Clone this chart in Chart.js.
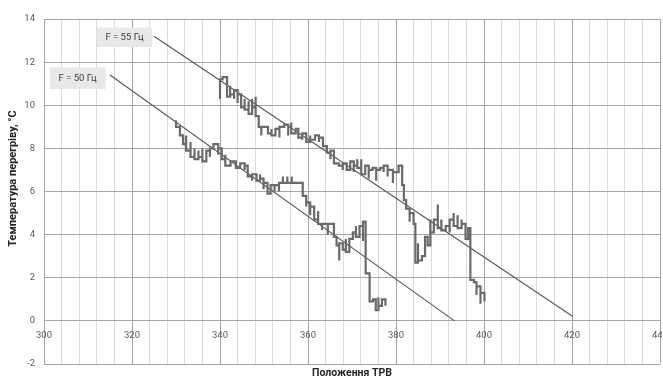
<!DOCTYPE html>
<html>
<head>
<meta charset="utf-8">
<script src="https://cdn.jsdelivr.net/npm/chart.js@4.4.1/dist/chart.umd.min.js"></script>
<style>
  html, body { margin: 0; padding: 0; background: #fff; overflow: hidden; }
  canvas { display: block; }
</style>
</head>
<body>
<canvas id="chart" width="663" height="378"></canvas>
<script>
// Superheat vs. TRV position, measured at two compressor frequencies.
// Each series is a list of [TRV position, superheat °C] readings;
// several readings at one position show up as vertical strokes.
const series50 = [
  [330,9.3],[330,9.0],[330.9,9.0],[330.9,8.6],[331.6,8.6],[331.6,8.2],[332.3,8.2],[332.3,7.9],
  [332.3,8.6],[332.3,7.9],[333.3,7.9],[333.3,7.6],[333.3,8.3],[333.3,7.6],[334.2,7.6],[334.2,8.0],
  [334.2,7.5],[335.1,7.5],[335.1,7.9],[335.1,7.6],[336,7.6],[336,8.0],[336,7.4],[336.9,7.4],
  [336.9,7.9],[337.7,7.9],[337.7,7.6],[337.7,8.0],[338.5,8.0],[338.5,8.2],[339.6,8.2],[339.6,7.7],
  [339.6,8.0],[340.4,8.0],[340.4,7.5],[341.2,7.5],[341.2,7.7],[341.2,7.2],[342.4,7.2],[342.4,7.4],
  [343.6,7.4],[343.6,7.1],[344.6,7.1],[344.6,7.3],[345.6,7.3],[345.6,7.0],[345.6,7.2],[346.3,7.2],
  [346.3,6.7],[347.3,6.7],[347.3,6.5],[347.3,6.8],[348.3,6.8],[348.3,6.5],[349.1,6.5],[349.1,6.8],
  [349.1,6.6],[349.9,6.6],[349.9,6.1],[349.9,6.4],[350.8,6.4],[350.8,5.9],[351.5,5.9],[351.5,6.3],
  [352.4,6.3],[352.4,6.0],[352.4,6.3],[353.4,6.3],[353.4,6.0],[353.4,6.4],[354.3,6.4],[354.3,6.7],
  [354.3,6.4],[355.3,6.4],[355.3,6.7],[355.3,6.4],[356.3,6.4],[356.3,6.7],[356.3,6.4],[358.8,6.4],
  [358.8,5.8],[359.6,5.8],[359.6,5.3],[359.6,5.5],[360.5,5.5],[360.5,4.9],[360.5,5.3],[361.4,5.3],
  [361.4,4.7],[362.3,4.7],[362.3,5.1],[362.3,4.5],[363.2,4.5],[363.2,4.2],[363.2,4.5],[364.5,4.5],
  [364.5,4.0],[364.5,4.5],[365.9,4.5],[365.9,3.9],[366.5,3.9],[366.5,3.5],[367.1,3.5],[367.1,2.8],
  [367.1,3.6],[367.9,3.6],[367.9,3.3],[368.6,3.3],[368.6,3.8],[368.6,3.2],[369.4,3.2],[369.4,3.8],
  [370.2,3.8],[370.2,4.1],[370.9,4.1],[370.9,4.4],[370.9,3.9],[371.7,3.9],[371.7,4.4],[372.5,4.4],
  [372.5,3.7],[372.5,4.6],[373.1,4.6],[373.1,2.2],[374,2.2],[374,0.9],[374.8,0.9],[374.8,1.0],
  [375.4,1.0],[375.4,0.5],[376,0.5],[376,1.1],[376,0.7],[376.8,0.7],[376.8,1.0],[377.6,1.0],
  [377.6,0.7],[377.6,1.0]
];

const series55 = [
  [340,10.3],[340,11.2],[340.6,11.2],[340.6,11.3],[341.6,11.3],[341.6,10.4],[342.3,10.4],[342.3,10.9],
  [342.3,10.5],[343.2,10.5],[343.2,10.3],[343.2,10.7],[344,10.7],[344,10.1],[344,10.5],[344.8,10.5],
  [344.8,9.9],[345.6,9.9],[345.6,10.3],[345.6,9.8],[346.5,9.8],[346.5,10.2],[346.5,9.6],[347.3,9.6],
  [347.3,10.3],[347.3,9.9],[348.1,9.9],[348.1,10.4],[348.1,9.5],[348.8,9.5],[348.8,9.0],[349.4,9.0],
  [349.4,8.6],[349.4,9.0],[350.9,9.0],[350.9,8.7],[351.7,8.7],[351.7,8.9],[351.7,8.6],[352.6,8.6],
  [352.6,8.9],[353.5,8.9],[353.5,8.5],[353.5,9.0],[354.6,9.0],[354.6,9.1],[355.5,9.1],[355.5,8.6],
  [355.5,9.0],[356.2,9.0],[356.2,9.2],[356.2,8.7],[357.2,8.7],[357.2,8.9],[357.8,8.9],[357.8,8.5],
  [358.7,8.5],[358.7,8.4],[358.7,8.7],[359.6,8.7],[359.6,8.3],[360.5,8.3],[360.5,8.6],[360.5,8.4],
  [361.6,8.4],[361.6,8.6],[362.5,8.6],[362.5,8.3],[362.5,8.5],[363.4,8.5],[363.4,8.1],[364.3,8.1],
  [364.3,7.8],[365.1,7.8],[365.1,7.5],[365.1,7.9],[365.9,7.9],[365.9,7.3],[367,7.3],[367,7.2],
  [367.9,7.2],[367.9,7.0],[367.9,7.3],[368.8,7.3],[368.8,7.0],[369.6,7.0],[369.6,7.4],[370.4,7.4],
  [370.4,6.9],[370.4,7.2],[371.2,7.2],[371.2,7.5],[371.2,7.1],[372.1,7.1],[372.1,7.5],[372.1,6.8],
  [373,6.8],[373,7.2],[373.8,7.2],[373.8,6.6],[373.8,7.0],[374.7,7.0],[374.7,7.1],[375.5,7.1],
  [375.5,6.5],[375.5,7.0],[376.4,7.0],[376.4,7.1],[377.2,7.1],[377.2,6.9],[377.2,7.2],[378.1,7.2],
  [378.1,6.7],[378.1,7.0],[379.3,7.0],[379.3,6.4],[379.3,6.9],[380.6,6.9],[380.6,7.2],[381.4,7.2],
  [381.4,6.3],[381.8,6.3],[381.8,5.6],[382.3,5.6],[382.3,5.2],[383.1,5.2],[383.1,4.6],[383.1,5.0],
  [384,5.0],[384,4.5],[384.4,4.5],[384.4,2.7],[385,2.7],[385,3.6],[385,2.8],[385.9,2.8],
  [385.9,3.0],[386.6,3.0],[386.6,3.9],[387.2,3.9],[387.2,3.5],[387.8,3.5],[387.8,4.7],[387.8,4.1],
  [388.6,4.1],[388.6,4.7],[389.5,4.7],[389.5,5.4],[389.5,4.3],[390.3,4.3],[390.3,4.7],[390.3,4.2],
  [391.3,4.2],[391.3,4.4],[392.2,4.4],[392.2,4.1],[392.2,4.7],[393.1,4.7],[393.1,5.0],[393.1,4.4],
  [394,4.4],[394,4.9],[394,4.3],[394.9,4.3],[394.9,4.7],[394.9,4.5],[395.8,4.5],[395.8,3.8],
  [396.4,3.8],[396.4,4.3],[396.9,4.3],[396.9,1.9],[397.7,1.9],[397.7,1.8],[398.3,1.8],[398.3,1.2],
  [398.3,1.6],[399.2,1.6],[399.2,0.8],[399.2,1.3],[400.1,1.3],[400.1,0.9],[400.1,1.3]
];

// Linear trend lines (start and end of each fitted line)
const trend50 = [[315, 11.4], [393.3, 0]];
const trend55 = [[325, 13.2], [420.2, 0.2]];

// Axis ranges and tick steps
const xRange = [300, 440];
const yRange = [-2, 14];
const xLabelStep = 20;
const xGridStep = 4;
const yStep = 2;

const xTitle = 'Положення ТРВ';
const yTitle = 'Температура перегріву, °С';

// Text boxes naming each trend line, placed in data units
const seriesNotes = [
  { text: 'F = 55 Гц', from: [312, 13.6], to: [324.6, 12.7] },
  { text: 'F = 50 Гц', from: [301.3, 11.75], to: [314, 10.75] }
];

const FONT = 'Roboto, "Liberation Sans", sans-serif';
const toPoints = arr => arr.map(([x, y]) => ({ x, y }));

const notesPlugin = {
  id: 'notes',
  afterDatasetsDraw(chart) {
    const { ctx, scales: { x, y } } = chart;
    ctx.save();
    seriesNotes.forEach(n => {
      const l = x.getPixelForValue(n.from[0]);
      const r = x.getPixelForValue(n.to[0]);
      const t = y.getPixelForValue(n.from[1]);
      const b = y.getPixelForValue(n.to[1]);
      ctx.fillStyle = '#e8e8e8';
      ctx.fillRect(l, t, r - l, b - t);
      ctx.fillStyle = '#404040';
      ctx.font = '9.5px ' + FONT;
      ctx.textAlign = 'center';
      ctx.textBaseline = 'middle';
      ctx.fillText(n.text, (l + r) / 2, (t + b) / 2 + 0.5);
    });
    ctx.restore();
  },
  afterDraw(chart) {
    const { ctx, chartArea } = chart;
    ctx.save();
    ctx.translate(13, (chartArea.top + chartArea.bottom) / 2 - 13);
    ctx.rotate(-Math.PI / 2);
    ctx.font = 'bold 11px ' + FONT;
    ctx.fillStyle = '#262626';
    ctx.textAlign = 'center';
    ctx.textBaseline = 'middle';
    ctx.fillText(yTitle, 0, 0);
    ctx.restore();
  }
};

const seriesStyle = { showLine: true, pointRadius: 0, borderWidth: 2.2, borderColor: '#6a6a6a',
                      tension: 0, fill: false, borderJoinStyle: 'miter' };
const trendStyle = { showLine: true, pointRadius: 0, borderWidth: 1.2, borderColor: '#5a5a5a',
                     tension: 0, fill: false };

new Chart(document.getElementById('chart'), {
  type: 'scatter',
  data: {
    datasets: [
      { label: 'F = 50 Гц', data: toPoints(series50), ...seriesStyle },
      { label: 'F = 55 Гц', data: toPoints(series55), ...seriesStyle },
      { label: 'Тренд 50', data: toPoints(trend50), ...trendStyle },
      { label: 'Тренд 55', data: toPoints(trend55), ...trendStyle }
    ]
  },
  options: {
    responsive: false,
    animation: false,
    devicePixelRatio: 1,
    layout: { padding: { left: 0, right: 3, top: 19, bottom: 0 } },
    plugins: { legend: { display: false }, tooltip: { enabled: false } },
    scales: {
      x: {
        type: 'linear', min: xRange[0], max: xRange[1], position: 'bottom',
        ticks: { stepSize: xGridStep, display: false },
        grid: {
          drawTicks: false,
          color: c => (c.tick && c.tick.value % xLabelStep === 0) ? '#a6a6a6' : '#dcdcdc'
        },
        border: { display: false },
        title: {
          display: true, text: xTitle, color: '#262626',
          font: { family: FONT, size: 10.5, weight: 'bold', lineHeight: 1 },
          padding: { top: 0, bottom: -1 }
        },
        afterFit(s) { s.height = 14; s.paddingLeft = 0; s.paddingRight = 0; }
      },
      xLabels: {
        type: 'linear', axis: 'x', min: xRange[0], max: xRange[1], position: { y: 0 },
        ticks: { stepSize: xLabelStep, padding: 9, color: '#595959', maxRotation: 0, autoSkip: false,
                 font: { family: FONT, size: 9.5 } },
        grid: { display: false, drawTicks: false },
        border: { display: false },
        afterFit(s) { s.paddingLeft = 0; s.paddingRight = 0; }
      },
      y: {
        type: 'linear', min: yRange[0], max: yRange[1],
        ticks: { stepSize: yStep, padding: 9, color: '#595959', font: { family: FONT, size: 9.5 } },
        grid: { drawTicks: false, color: '#a6a6a6' },
        border: { display: false },
        afterFit(s) { s.width = 44; s.paddingTop = 0; s.paddingBottom = 0; }
      }
    }
  },
  plugins: [notesPlugin]
});
</script>
</body>
</html>
